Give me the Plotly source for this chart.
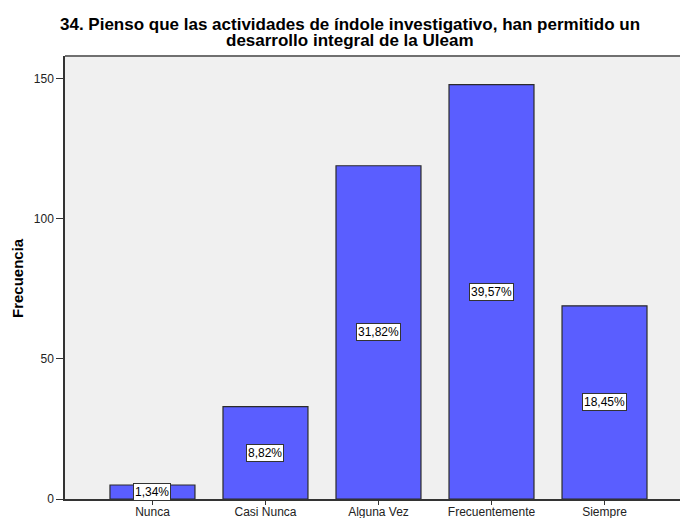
import plotly.graph_objects as go

# Response categories and counts (n = 374)
categorias = ["Nunca", "Casi Nunca", "Alguna Vez", "Frecuentemente", "Siempre"]
frecuencias = [5, 33, 119, 148, 69]
porcentajes = ["1,34%", "8,82%", "31,82%", "39,57%", "18,45%"]
y_ticks = [0, 50, 100, 150]
titulo = [
    "34. Pienso que las actividades de índole investigativo, han permitido un",
    "desarrollo integral de la Uleam",
]

W, H = 680, 518
ML, MR, MT, MB = 65, 0, 56, 19
PW, PH = W - ML - MR, H - MT - MB
FONT = "Arial, Liberation Sans"


def py(px):
    """Paper y for a pixel row measured from the top of the page."""
    return (H - MB - px) / PH


fig = go.Figure()
fig.add_trace(go.Bar(
    x=list(range(len(categorias))),
    y=frecuencias,
    width=0.752,
    marker=dict(color="#5a5eff", line=dict(color="#2b2b2b", width=1.2)),
    hoverinfo="skip",
))

# Percentage labels in boxes at the middle of each bar
for i, (f, p) in enumerate(zip(frecuencias, porcentajes)):
    fig.add_annotation(
        x=i, y=f / 2, text=p, showarrow=False,
        font=dict(family=FONT, size=12, color="#000"),
        bgcolor="#ffffff", bordercolor="#333333", borderwidth=1, borderpad=1,
    )

# Chart title, one annotation per line for tight line spacing
for linea, ypx in zip(titulo, [25, 40]):
    fig.add_annotation(
        xref="paper", yref="paper", x=(350 - ML) / PW, y=py(ypx),
        xanchor="center", yanchor="middle",
        text=f"<b>{linea}</b>", showarrow=False,
        font=dict(family=FONT, size=17, color="#000"),
    )

# Y-axis title
fig.add_annotation(
    xref="paper", yref="paper", x=(17 - ML) / PW, y=py(278),
    xanchor="center", yanchor="middle",
    text="<b>Frecuencia</b>", textangle=-90, showarrow=False,
    font=dict(family=FONT, size=15, color="#000"),
)

# Top frame line of the plot area
fig.add_shape(type="line", xref="paper", yref="paper", x0=0, x1=1, y0=1, y1=1,
              line=dict(color="#707070", width=2))

fig.update_layout(
    width=W, height=H,
    margin=dict(l=ML, r=MR, t=MT, b=MB, autoexpand=False),
    paper_bgcolor="#ffffff",
    plot_bgcolor="#f0f0f0",
    showlegend=False,
    xaxis=dict(
        tickmode="array", tickvals=list(range(len(categorias))), ticktext=categorias,
        range=[-0.774, 4.668], automargin=False,
        showline=True, linecolor="#333333", linewidth=1.5,
        ticks="outside", ticklen=4, tickcolor="#333333",
        ticklabelstandoff=-3,
        tickfont=dict(family=FONT, size=12, color="#222"),
        showgrid=False, zeroline=False, fixedrange=True,
    ),
    yaxis=dict(
        range=[0, 158.2], tickvals=y_ticks, automargin=False,
        showline=True, linecolor="#333333", linewidth=1.5,
        ticks="outside", ticklen=7, tickcolor="#333333",
        tickfont=dict(family=FONT, size=12, color="#222"),
        showgrid=False, zeroline=False, fixedrange=True,
    ),
)

fig.write_html("out.html")
